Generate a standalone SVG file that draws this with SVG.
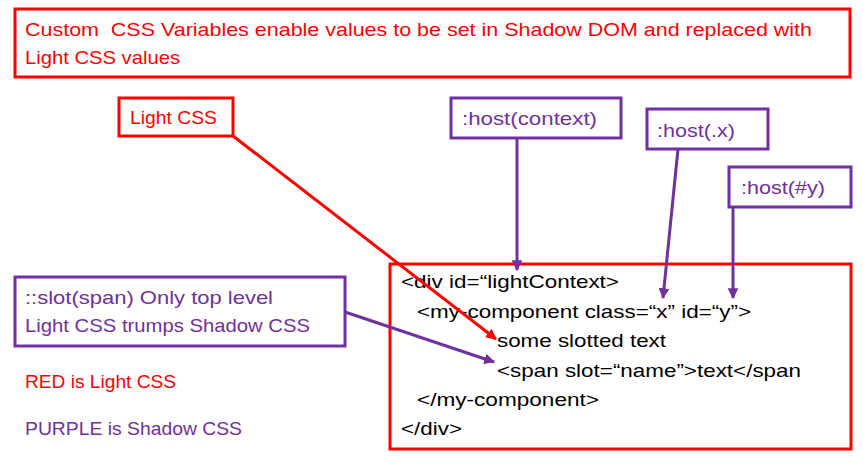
<svg xmlns="http://www.w3.org/2000/svg" width="863" height="463" viewBox="0 0 863 463">
<style>
text{font-family:"Liberation Sans",Arial,sans-serif;font-size:19px}
.r{fill:#FF0000}.p{fill:#7030A0}.k{fill:#000}
.rb{fill:#fff;stroke:#FF0000;stroke-width:3}
.pb{fill:#fff;stroke:#7030A0;stroke-width:3}
.rl{stroke:#FF0000;stroke-width:3;fill:none}
.pl{stroke:#7030A0;stroke-width:3;fill:none}
</style>
<defs>
<marker id="ar" viewBox="0 0 10 10" refX="9" refY="5" markerWidth="3.6" markerHeight="3.6" orient="auto" markerUnits="strokeWidth"><path d="M0,0L10,5L0,10z" fill="#FF0000"/></marker>
<marker id="ap" viewBox="0 0 10 10" refX="9" refY="5" markerWidth="3.6" markerHeight="3.6" orient="auto" markerUnits="strokeWidth"><path d="M0,0L10,5L0,10z" fill="#7030A0"/></marker>
</defs>
<rect width="863" height="463" fill="#fff"/>
<g id="title">
<rect class="rb" x="15" y="9" width="835" height="68"/>
<text class="r" x="25" y="36" textLength="787" lengthAdjust="spacingAndGlyphs" style="white-space:pre">Custom  CSS Variables enable values to be set in Shadow DOM and replaced with</text>
<text class="r" x="25" y="64" textLength="155" lengthAdjust="spacingAndGlyphs">Light CSS values</text>
</g>
<g id="code">
<rect class="rb" x="390" y="264" width="461" height="185"/>
<text class="k" x="401" y="288" textLength="218" lengthAdjust="spacingAndGlyphs">&lt;div id=“lightContext&gt;</text>
<text class="k" x="417" y="318" textLength="334" lengthAdjust="spacingAndGlyphs">&lt;my-component class=“x” id=“y”&gt;</text>
<text class="k" x="497" y="347" textLength="169" lengthAdjust="spacingAndGlyphs">some slotted text</text>
<text class="k" x="497" y="377" textLength="304" lengthAdjust="spacingAndGlyphs">&lt;span slot=“name”&gt;text&lt;/span</text>
<text class="k" x="417" y="406" textLength="182" lengthAdjust="spacingAndGlyphs">&lt;/my-component&gt;</text>
<text class="k" x="401" y="435" textLength="61" lengthAdjust="spacingAndGlyphs">&lt;/div&gt;</text>
</g>
<g id="connectors">
<line class="rl" x1="233" y1="136" x2="496" y2="339" marker-end="url(#ar)"/>
<line class="pl" x1="345" y1="312" x2="494" y2="362" marker-end="url(#ap)"/>
<line class="pl" x1="517" y1="138" x2="517" y2="270" marker-end="url(#ap)"/>
<line class="pl" x1="678" y1="149" x2="663" y2="298" marker-end="url(#ap)"/>
<line class="pl" x1="733" y1="207" x2="733" y2="298" marker-end="url(#ap)"/>
</g>
<g id="lightcss">
<rect class="rb" x="119" y="98" width="114" height="38"/>
<text class="r" x="130" y="124" textLength="87" lengthAdjust="spacingAndGlyphs">Light CSS</text>
</g>
<g id="hostcontext">
<rect class="pb" x="451" y="98" width="170" height="40"/>
<text class="p" x="462" y="125" textLength="135" lengthAdjust="spacingAndGlyphs">:host(context)</text>
</g>
<g id="hostx">
<rect class="pb" x="647" y="109" width="121" height="40"/>
<text class="p" x="657" y="137" textLength="78" lengthAdjust="spacingAndGlyphs">:host(.x)</text>
</g>
<g id="hosty">
<rect class="pb" x="729" y="167" width="122" height="40"/>
<text class="p" x="741" y="194" textLength="84" lengthAdjust="spacingAndGlyphs">:host(#y)</text>
</g>
<g id="slot">
<rect class="pb" x="15" y="277" width="330" height="69"/>
<text class="p" x="25" y="304" textLength="248" lengthAdjust="spacingAndGlyphs">::slot(span) Only top level</text>
<text class="p" x="25" y="332" textLength="285" lengthAdjust="spacingAndGlyphs">Light CSS trumps Shadow CSS</text>
</g>
<g id="legend">
<text class="r" x="25" y="388" textLength="151" lengthAdjust="spacingAndGlyphs">RED is Light CSS</text>
<text class="p" x="25" y="435" textLength="217" lengthAdjust="spacingAndGlyphs">PURPLE is Shadow CSS</text>
</g>
</svg>
